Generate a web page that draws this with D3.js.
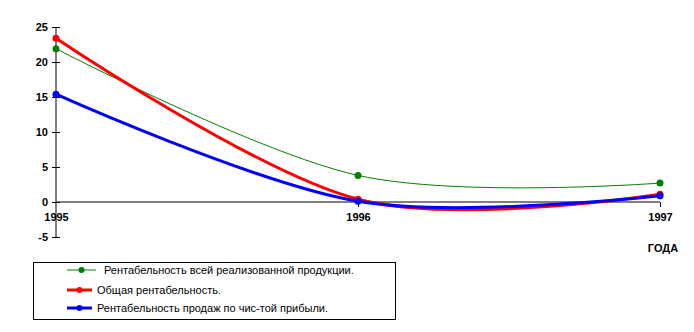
<!DOCTYPE html>
<html><head><meta charset="utf-8">
<script src="https://cdn.jsdelivr.net/npm/d3@7"></script>
<style>body{margin:0;background:#fff}svg{display:block}text{font-family:"Liberation Sans",Arial,sans-serif}</style>
</head><body><svg id="c" width="694" height="332"></svg>
<script>
const years = ["1995","1996","1997"];
const yTicks = [-5,0,5,10,15,20,25];
const seriesNames = ["Рентабельность всей реализованной продукции.","Общая рентабельность.","Рентабельность продаж по чис-той прибыли."];
const greenVals = [21.9, 3.8, 2.7];
const redVals = [23.4, 0.4, 1.1];
const blueVals = [15.4, 0.1, 0.9];
const colors = ["#008000","#ff0000","#0000ff"];
const widths = [1, 3, 3];
const series = [greenVals, redVals, blueVals];

const svg = d3.select("#c");
const x = d3.scalePoint().domain(years).range([56, 660]);
const y = d3.scaleLinear().domain([-5, 25]).range([237, 27]);

// y axis
const ya = svg.append("g").attr("transform","translate(56,0)")
  .call(d3.axisLeft(y).tickValues(yTicks).tickFormat(d=>String(d)).tickSize(4).tickPadding(4));
ya.select(".domain").attr("d", `M0,${y(-5)}V${y(25)}`).attr("stroke","#000");
ya.selectAll(".tick line").attr("x1",-4).attr("x2",4).attr("stroke","#000");
ya.selectAll(".tick text").attr("font-size",11).attr("font-weight","bold").attr("fill","#000");

// x axis at zero
const xa = svg.append("g").attr("transform",`translate(0,${y(0)})`)
  .call(d3.axisBottom(x).tickSize(5).tickPadding(6));
xa.select(".domain").attr("d",`M56,0H660`).attr("stroke","#000");
xa.selectAll(".tick text").attr("font-size",11).attr("font-weight","bold").attr("fill","#000");
xa.selectAll(".tick line").filter(d=>d==="1995").remove();

svg.append("text").attr("x",663).attr("y",252).attr("text-anchor","middle")
  .attr("font-size",11).attr("font-weight","bold").text("ГОДА");

const line = d3.line().x((d,i)=>x(years[i])).y(d=>y(d)).curve(d3.curveCardinal.tension(0));
series.forEach((vals,k)=>{
  svg.append("path").attr("d",line(vals)).attr("fill","none").attr("stroke",colors[k]).attr("stroke-width",widths[k]);
  svg.selectAll(null).data(vals).enter().append("circle")
    .attr("cx",(d,i)=>x(years[i])).attr("cy",d=>y(d)).attr("r",3.5).attr("fill",colors[k]);
});

// legend
const lg = svg.append("g");
lg.append("rect").attr("x",33.5).attr("y",262.5).attr("width",362).attr("height",57).attr("fill","none").attr("stroke","#000");
const lx = [[67,96,100],[67,92,97],[67,92,97]];
const ly = [270,290,308];
seriesNames.forEach((n,k)=>{
  lg.append("line").attr("x1",lx[k][0]).attr("x2",lx[k][1]).attr("y1",ly[k]).attr("y2",ly[k]).attr("stroke",colors[k]).attr("stroke-width",widths[k]);
  lg.append("circle").attr("cx",(lx[k][0]+lx[k][1])/2).attr("cy",ly[k]).attr("r",3).attr("fill",colors[k]);
  lg.append("text").attr("x",lx[k][2]+ (k===0?4:0)).attr("y",ly[k]).attr("dy","0.35em").attr("font-size",11).attr("fill","#000").text(n);
});
</script></body></html>
